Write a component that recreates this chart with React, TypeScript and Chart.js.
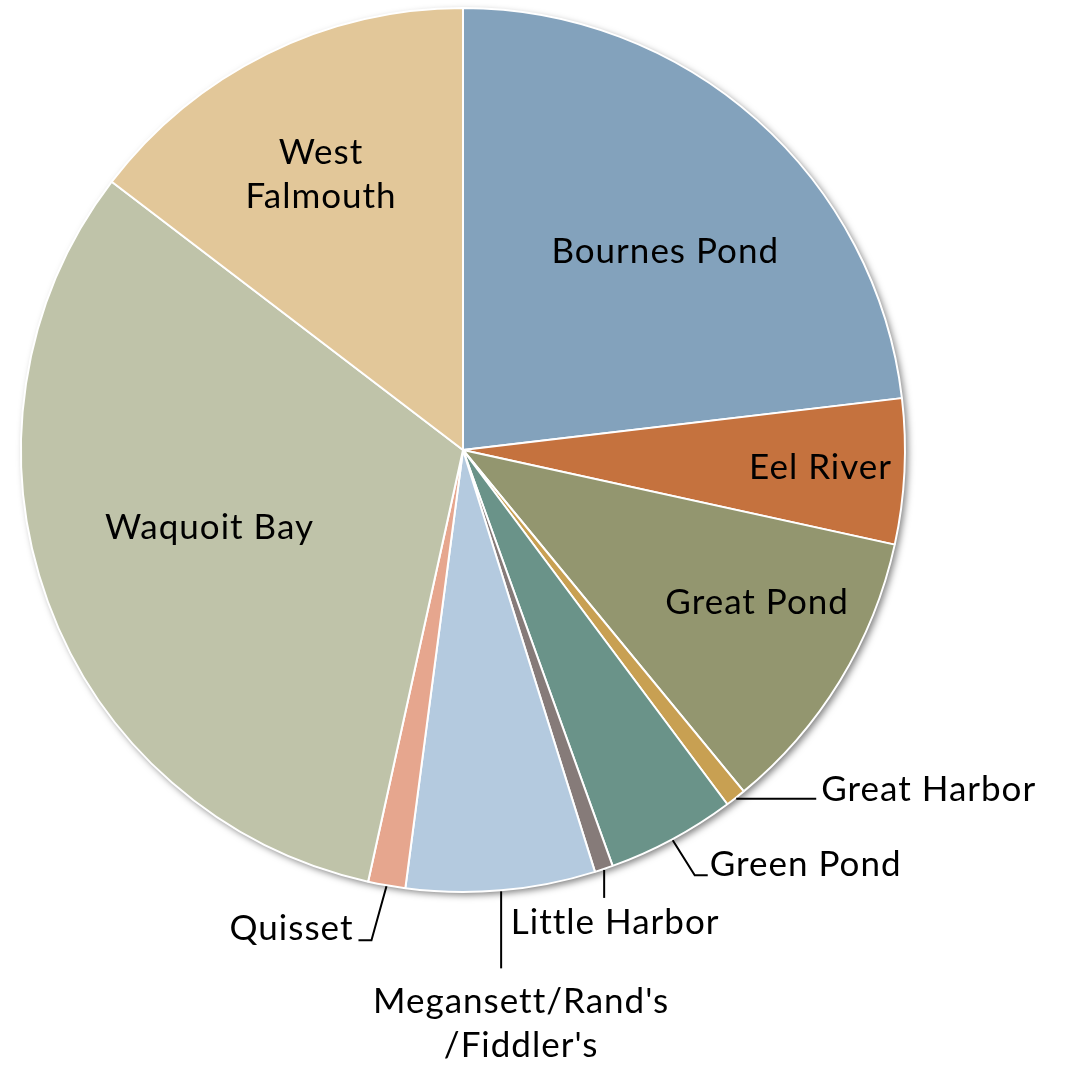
import React, { useEffect, useRef } from "react";
import { Chart, registerables } from "chart.js";

Chart.register(...registerables);

const categories = [
  "Bournes Pond",
  "Eel River",
  "Great Pond",
  "Great Harbor",
  "Green Pond",
  "Little Harbor",
  "Megansett/Rand's/Fiddler's",
  "Quisset",
  "Waquoit Bay",
  "West Falmouth",
];
const values = [23.1, 5.3, 10.6, 0.75, 4.7, 0.67, 6.9, 1.36, 31.9, 14.6];
const labelLines = [
  ["Bournes Pond"],
  ["Eel River"],
  ["Great Pond"],
  ["Great Harbor"],
  ["Green Pond"],
  ["Little Harbor"],
  ["Megansett/Rand's", "/Fiddler's"],
  ["Quisset"],
  ["Waquoit Bay"],
  ["West", "Falmouth"],
];
const colors = [
  "#83A2BC",
  "#C5723E",
  "#93966F",
  "#C8A052",
  "#6A9389",
  "#867B79",
  "#B4CADF",
  "#E6A68E",
  "#BFC3A9",
  "#E2C799",
];

type Layout =
  | { kind: "in"; frac: number; angOff: number }
  | { kind: "out"; elbow: [number, number]; run: number; align: "left" | "right" | "center"; textDx: number; textDy: number };

const layout: Layout[] = [
  { kind: "in", frac: 0.64, angOff: 4 },
  { kind: "in", frac: 0.81, angOff: 0 },
  { kind: "in", frac: 0.75, angOff: -4 },
  { kind: "out", elbow: [0, 0], run: 80, align: "left", textDx: 5, textDy: 2 },
  { kind: "out", elbow: [22, 35], run: 13, align: "left", textDx: 2, textDy: 1 },
  { kind: "out", elbow: [0, 28], run: 0, align: "center", textDx: 11, textDy: 25 },
  { kind: "out", elbow: [0, 77], run: 0, align: "center", textDx: 20, textDy: 33 },
  { kind: "out", elbow: [-15, 54], run: -13, align: "right", textDx: -5, textDy: 0 },
  { kind: "in", frac: 0.6, angOff: 3 },
  { kind: "in", frac: 0.7, angOff: -1 },
];

const FONT = "35px Lato, 'DejaVu Sans', sans-serif";
const LINE_H = 44;

const shadowPlugin = {
  id: "pieShadow",
  beforeDatasetsDraw(chart: any) {
    const meta = chart.getDatasetMeta(0);
    const a = meta.data[0];
    if (!a) return;
    const ctx = chart.ctx;
    ctx.save();
    ctx.shadowColor = "rgba(0,0,0,0.5)";
    ctx.shadowBlur = 7;
    ctx.shadowOffsetX = 3;
    ctx.shadowOffsetY = 3;
    ctx.fillStyle = "#ffffff";
    ctx.beginPath();
    ctx.arc(a.x, a.y, a.outerRadius, 0, Math.PI * 2);
    ctx.fill();
    ctx.restore();
  },
};

const labelPlugin = {
  id: "pieLabels",
  afterDatasetsDraw(chart: any) {
    const ctx = chart.ctx;
    const meta = chart.getDatasetMeta(0);
    ctx.save();
    ctx.font = FONT;
    try {
      (ctx as any).letterSpacing = "1px";
    } catch (e) {}
    ctx.fillStyle = "#000000";
    meta.data.forEach((arc: any, i: number) => {
      const L = layout[i];
      const lines = labelLines[i];
      const mid = (arc.startAngle + arc.endAngle) / 2;
      const r = arc.outerRadius;
      if (L.kind === "in") {
        const ang = mid + (L.angOff * Math.PI) / 180;
        const cx = arc.x + Math.cos(ang) * r * L.frac;
        const cy = arc.y + Math.sin(ang) * r * L.frac;
        ctx.textAlign = "center";
        ctx.textBaseline = "middle";
        const h = (lines.length - 1) * LINE_H;
        lines.forEach((t, k) => ctx.fillText(t, cx, cy - h / 2 + k * LINE_H));
      } else {
        const ex = arc.x + Math.cos(mid) * (r + 1);
        const ey = arc.y + Math.sin(mid) * (r + 1);
        const bx = ex + L.elbow[0];
        const by = ey + L.elbow[1];
        const fx = bx + L.run;
        const fy = by;
        ctx.strokeStyle = "#000000";
        ctx.lineWidth = 2;
        ctx.beginPath();
        ctx.moveTo(ex, ey);
        ctx.lineTo(bx, by);
        if (L.run !== 0) ctx.lineTo(fx, fy);
        ctx.stroke();
        ctx.textAlign = L.align;
        ctx.textBaseline = L.align === "center" ? "middle" : "alphabetic";
        lines.forEach((t, k) => ctx.fillText(t, fx + L.textDx, fy + L.textDy + k * LINE_H));
      }
    });
    ctx.restore();
  },
};

export default function App() {
  const ref = useRef<HTMLCanvasElement | null>(null);
  useEffect(() => {
    document.body.style.margin = "0";
    const chart = new Chart(ref.current as HTMLCanvasElement, {
      type: "pie",
      data: {
        labels: categories,
        datasets: [
          {
            data: values,
            backgroundColor: colors,
            borderColor: "#ffffff",
            borderWidth: 2,
          },
        ],
      },
      options: {
        animation: false,
        responsive: false,
        layout: { padding: { left: 20, top: 7, right: 161, bottom: 175 } },
        plugins: { legend: { display: false }, tooltip: { enabled: false } },
      },
      plugins: [shadowPlugin, labelPlugin],
    });
    return () => chart.destroy();
  }, []);
  return (
    <div style={{ position: "fixed", left: 0, top: 0, width: 1067, height: 1068, background: "#fff" }}>
      <canvas ref={ref} width={1067} height={1068} style={{ width: 1067, height: 1068 }} />
    </div>
  );
}
